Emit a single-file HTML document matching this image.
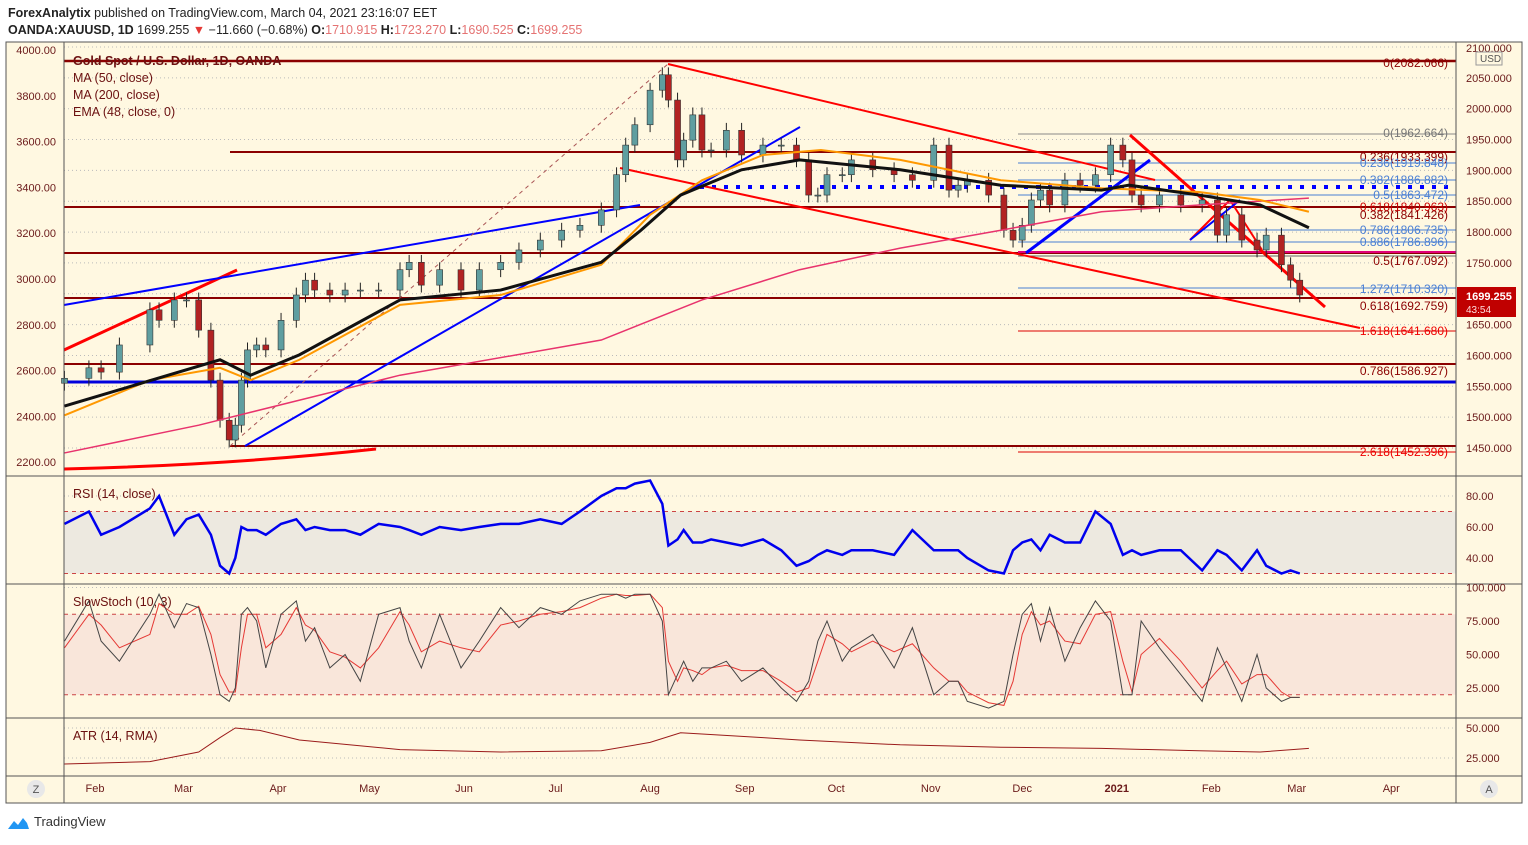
<!DOCTYPE html>
<html><head><meta charset="utf-8"><style>
body{margin:0;background:#fff;font-family:"Liberation Sans",sans-serif;}
svg text{font-family:"Liberation Sans",sans-serif;}
</style></head><body>
<svg id="c" width="1528" height="840" xmlns="http://www.w3.org/2000/svg">
<text x="8" y="17" font-size="12.5" fill="#222"><tspan font-weight="bold">ForexAnalytix</tspan> published on TradingView.com, March 04, 2021 23:16:07 EET</text>
<text x="8" y="34" font-size="12.5" fill="#222"><tspan font-weight="bold">OANDA:XAUUSD, 1D</tspan> 1699.255 <tspan fill="#e53935">▼</tspan> −11.660 (−0.68%) <tspan font-weight="bold">O:</tspan><tspan fill="#e57373">1710.915</tspan> <tspan font-weight="bold">H:</tspan><tspan fill="#e57373">1723.270</tspan> <tspan font-weight="bold">L:</tspan><tspan fill="#e57373">1690.525</tspan> <tspan font-weight="bold">C:</tspan><tspan fill="#e57373">1699.255</tspan></text>
<rect x="6" y="42" width="1516" height="761" fill="#fff8e1" stroke="#555"/>
<g id="grid"></g>
<g id="bands"></g>
<g id="ann"></g>
<g id="cand"></g>
<g id="ind"></g>
<g id="axes"></g>
<text x="34" y="826" font-size="13" fill="#333">TradingView</text>
<path d="M8 829 l6 -8 l4 4 l5 -7 l4 5 l2 6 z" fill="#2196f3"/>
</svg>
<script>
const days=[2,10,14,20,30,33,38,42,46,50,53,56,58,60,62,65,68,73,78,81,84,89,94,99,105,112,115,119,125,132,138,145,151,158,165,171,178,183,186,189,194,198,200,203,205,208,211,214,219,224,231,237,242,246,249,252,257,260,267,274,280,287,292,295,298,305,310,313,316,319,322,325,330,335,340,345,349,352,355,361,368,375,380,383,388,393,396,401,404,407,410];
const closes=[1563,1580,1573,1617,1674,1657,1690,1690,1641,1560,1495,1463,1487,1560,1609,1617,1609,1657,1698,1722,1706,1698,1706,1706,1706,1739,1751,1714,1739,1706,1739,1751,1771,1787,1803,1811,1836,1893,1941,1974,2030,2055,2014,1917,1949,1990,1933,1933,1965,1925,1941,1941,1917,1860,1860,1893,1893,1917,1901,1893,1884,1941,1868,1876,1884,1860,1803,1787,1811,1852,1868,1844,1884,1876,1893,1941,1917,1860,1844,1860,1844,1852,1795,1828,1787,1771,1795,1747,1722,1698];
const rsi=[62,70,55,60,72,80,55,65,68,55,35,30,40,60,58,58,55,62,65,58,60,58,58,55,62,60,58,55,60,58,60,62,62,65,62,70,80,85,85,88,90,75,48,52,58,50,50,52,50,48,52,45,35,38,42,45,42,45,45,42,58,45,45,45,40,32,30,45,50,52,45,55,50,50,70,62,42,45,42,45,45,32,45,42,32,45,35,30,32,30];
const stochK=[60,90,60,45,80,95,70,88,85,50,20,15,25,80,85,75,40,80,90,60,70,40,50,30,80,85,60,40,80,40,60,85,70,85,80,90,95,95,92,95,95,75,20,35,45,30,40,40,45,30,40,25,15,30,60,75,45,55,65,40,70,20,30,30,15,10,15,50,80,88,60,85,45,70,90,75,20,20,75,55,35,15,55,40,15,50,25,15,18,18];
const stochD=[55,80,72,55,65,88,80,80,86,65,35,22,22,55,80,80,55,65,85,72,68,52,48,40,55,82,72,52,60,55,52,72,75,80,82,85,92,95,94,94,95,85,45,30,40,38,35,40,42,38,38,30,22,25,45,65,58,52,60,52,58,40,30,30,22,14,12,30,65,82,72,75,60,58,80,82,45,22,50,62,45,25,38,45,28,35,35,22,18,18];
const maDays=[2,53,63,79,112,145,178,191,204,224,243,276,309,342,351,374,394,410];
const ma50=[1518,1593,1568,1601,1690,1706,1751,1803,1860,1901,1917,1901,1876,1868,1876,1860,1844,1807];
const ma200Days=[2,46,112,178,211,243,276,309,342,374,410];
const ma200=[1442,1487,1568,1625,1690,1739,1774,1803,1833,1844,1855];
const emaDays=[2,30,53,63,79,112,145,178,194,211,231,250,276,309,342,374,394,410];
const ema48=[1503,1560,1580,1560,1593,1682,1698,1747,1828,1884,1925,1933,1917,1884,1871,1865,1852,1833];
const atrDays=[2,30,46,53,58,66,79,112,145,178,194,204,211,231,243,276,309,342,374,394,410];
const atr=[20,22,30,42,50,48,40,32,30,31,38,46,45,42,40,36,34,33,31,30,33];
const priceTicks=[2100,2050,2000,1950,1900,1850,1800,1750,1700,1650,1600,1550,1500,1450];
const leftTicks=["4000.00","3800.00","3600.00","3400.00","3200.00","3000.00","2800.00","2600.00","2400.00","2200.00"];
const monthLabels=["Feb","Mar","Apr","May","Jun","Jul","Aug","Sep","Oct","Nov","Dec","2021","Feb","Mar","Apr"];
const monthDays=[12,41,72,102,133,163,194,225,255,286,316,347,378,406,437];

const NS="http://www.w3.org/2000/svg";
const X=d=>95+(d-12)*3.05;
const Y=p=>448-(p-1450)*0.6169;
const YR=v=>558-(v-40)*1.55;
const YS=v=>688-(v-25)*1.34;
const YA=v=>758-(v-25)*1.2;
function mk(tag,attrs,parent,txt){const e=document.createElementNS(NS,tag);for(const k in attrs)e.setAttribute(k,attrs[k]);if(txt!==undefined)e.textContent=txt;document.getElementById(parent).appendChild(e);return e;}
priceTicks.forEach(p=>{const e=mk('line',{x1:64,x2:1456,y1:Y(p),y2:Y(p),stroke:'#bbb','stroke-dasharray':'1 3'},'grid');});
[80,60,40].forEach(v=>{const e=mk('line',{x1:64,x2:1456,y1:YR(v),y2:YR(v),stroke:'#bbb','stroke-dasharray':'1 3'},'grid');});
[100,75,50,25].forEach(v=>{const e=mk('line',{x1:64,x2:1456,y1:YS(v),y2:YS(v),stroke:'#bbb','stroke-dasharray':'1 3'},'grid');});
[50,25].forEach(v=>{const e=mk('line',{x1:64,x2:1456,y1:YA(v),y2:YA(v),stroke:'#bbb','stroke-dasharray':'1 3'},'grid');});
let e;
e=mk('rect',{x:64,y:YR(70),width:1392,height:YR(30)-YR(70),fill:'#ede9e0'},'bands');
e=mk('rect',{x:64,y:YS(80),width:1392,height:YS(20)-YS(80),fill:'#f9e6da'},'bands');
[[YR(70),'#c44'],[YR(30),'#c44'],[YS(80),'#c44'],[YS(20),'#c44']].forEach(a=>{const l=mk('line',{x1:64,x2:1456,y1:a[0],y2:a[0],stroke:a[1],'stroke-dasharray':'4 4'},'bands');});
[476,584,718,776].forEach(y=>{const l=mk('line',{x1:6,x2:1522,y1:y,y2:y,stroke:'#555'},'axes');});
[64,1456].forEach(x=>{const l=mk('line',{x1:x,x2:x,y1:42,y2:803,stroke:'#555'},'axes');});
const hl=[[61,'#8b0000',2.5,64],[152,'#8b0000',2,230],[207,'#8b0000',2,64],[253,'#8b0000',2,64],[298,'#8b0000',2,64],[364,'#8b0000',2,64],[446,'#8b0000',2,230],[382,'#0000dd',3,64],
[134,'#888',1,1018],[163,'#4a7fd4',1,1018],[180,'#4a7fd4',1,1018],[195,'#4a7fd4',1,1018],[230,'#4a7fd4',1,1018],[242,'#4a7fd4',1,1018],[252,'#e0007a',2,1018],[256,'#666',1,1018],[288,'#4a7fd4',1,1018],[331,'#d00',1,1018],[452,'#d00',1,1018]];
hl.forEach(h=>{const l=mk('line',{x1:h[3],x2:1456,y1:h[0],y2:h[0],stroke:h[1],'stroke-width':h[2]},'ann');});
e=mk('line',{x1:700,x2:1456,y1:187,y2:187,stroke:'#0000ff','stroke-width':4,'stroke-dasharray':'4 8'},'ann');
const tl=[[668,64,1155,180,'#f00',2],[620,168,1360,328,'#f00',2],[64,350,237,270,'#f00',3],[1130,135,1325,307,'#f00',3],[1190,240,1230,200,'#f00',2],[1230,200,1262,250,'#f00',2],
[64,305,640,205,'#00f',2],[245,446,800,127,'#00f',2],[1026,253,1150,160,'#00f',3],[1190,240,1240,200,'#00f',2],[230,446,668,64,'#a55',1]];
tl.forEach(t=>{const l=mk('line',{x1:t[0],y1:t[1],x2:t[2],y2:t[3],stroke:t[4],'stroke-width':t[5]},'ann');if(t[4]=='#a55')l.setAttribute('stroke-dasharray','4 4');});
e=mk('path',{d:'M64 469 Q230 465 376 449',stroke:'#f00','stroke-width':3,fill:'none'},'ann');
const fibs=[[67,'0(2082.066)','#8b0000'],[137,'0(1962.664)','#777'],[161,'0.236(1933.399)','#8b0000'],[167,'0.236(1919.848)','#4a7fd4'],[184,'0.382(1886.882)','#4a7fd4'],[199,'0.5(1863.472)','#4a7fd4'],[211,'0.618(1840.963)','#c00'],[219,'0.382(1841.426)','#8b0000'],[234,'0.786(1806.735)','#4a7fd4'],[246,'0.886(1786.896)','#4a7fd4'],[265,'0.5(1767.092)','#8b0000'],[293,'1.272(1710.320)','#4a7fd4'],[310,'0.618(1692.759)','#8b0000'],[335,'1.618(1641.680)','#e00'],[375,'0.786(1586.927)','#8b0000'],[456,'2.618(1452.396)','#e00']];
fibs.forEach(f=>{const t=mk('text',{x:1448,y:f[0],'font-size':12,fill:f[2],'text-anchor':'end'},'ann',f[1]);});
for(let i=0;i<days.length;i++){
 const o=i?closes[i-1]:closes[0]-8,c=closes[i],x=X(days[i]);
 const hi=Math.max(o,c)+12,lo=Math.min(o,c)-12,up=c>=o;
 const w=mk('line',{x1:x,x2:x,y1:Y(hi),y2:Y(lo),stroke:'#222'},'cand');
 const b=mk('rect',{x:x-3,y:Y(Math.max(o,c)),width:6,height:Math.max(1,Math.abs(Y(o)-Y(c))),fill:up?'#5f9ea0':'#b22222',stroke:'#333','stroke-width':0.6},'cand');
}
function poly(ds,vs,ys,col,w,name){const pts=ds.map((d,i)=>X(d)+','+ys(vs[i])).join(' ');const p=mk('polyline',{points:pts,fill:'none',stroke:col,'stroke-width':w},'ind');}
poly(ma200Days,ma200,Y,'#e8336d',1.5,'ma200-line');
poly(emaDays,ema48,Y,'#ff9800',2,'ema48-line');
poly(maDays,ma50,Y,'#111',3,'ma50-line');
poly(days,rsi,YR,'#0000ee',2.5,'rsi-line');
poly(days,stochD,YS,'#e53935',1,'stoch-d-line');
poly(days,stochK,YS,'#444',1,'stoch-k-line');
poly(atrDays,atr,YA,'#9b1b1b',1,'atr-line');
priceTicks.forEach((p,i)=>{if(i===0)return;const t=mk('text',{x:1466,y:Y(p)+4,'font-size':11,fill:'#6b1a1a'},'axes',p.toFixed(3));});
e=mk('text',{x:1466,y:52,'font-size':11,fill:'#6b1a1a'},'axes','2100.000');
e=mk('rect',{x:1476,y:52,width:26,height:13,fill:'#fff8e1',stroke:'#999'},'axes');
e=mk('text',{x:1480,y:62,'font-size':10,fill:'#555'},'axes','USD');
leftTicks.forEach((s,i)=>{const t=mk('text',{x:56,y:54+i*45.8,'font-size':11,fill:'#6b1a1a','text-anchor':'end'},'axes',s);});
e=mk('rect',{x:1457,y:287,width:59,height:30,fill:'#c00000'},'axes');
e=mk('text',{x:1466,y:300,'font-size':11,'font-weight':'bold',fill:'#fff'},'axes','1699.255');
e=mk('text',{x:1466,y:313,'font-size':10,fill:'#fdd'},'axes','43:54');
[80,60,40].forEach(v=>{const t=mk('text',{x:1466,y:YR(v)+4,'font-size':11,fill:'#6b1a1a'},'axes',v.toFixed(2));});
[100,75,50,25].forEach(v=>{const t=mk('text',{x:1466,y:YS(v)+4,'font-size':11,fill:'#6b1a1a'},'axes',v.toFixed(3));});
[50,25].forEach(v=>{const t=mk('text',{x:1466,y:YA(v)+4,'font-size':11,fill:'#6b1a1a'},'axes',v.toFixed(3));});
monthLabels.forEach((m,i)=>{const t=mk('text',{x:X(monthDays[i]),y:792,'font-size':11,fill:'#6b1a1a','text-anchor':'middle','font-weight':m==='2021'?'bold':'normal'},'axes',m);});
e=mk('circle',{cx:36,cy:789,r:9,fill:'#e8e8e8'},'axes');
e=mk('text',{x:36,y:793,'font-size':11,fill:'#555','text-anchor':'middle'},'axes','Z');
e=mk('circle',{cx:1489,cy:789,r:9,fill:'#e8e8e8'},'axes');
e=mk('text',{x:1489,y:793,'font-size':11,fill:'#555','text-anchor':'middle'},'axes','A');
const legend=[[73,65,'Gold Spot / U.S. Dollar, 1D, OANDA',true],[73,82,'MA (50, close)'],[73,99,'MA (200, close)'],[73,116,'EMA (48, close, 0)'],[73,498,'RSI (14, close)'],[73,606,'SlowStoch (10, 3)'],[73,740,'ATR (14, RMA)']];
legend.forEach(l=>{const t=mk('text',{x:l[0],y:l[1],'font-size':12.5,fill:'#6b1010','font-weight':l[3]?'bold':'normal'},'axes',l[2]);});
</script>
</body></html>
